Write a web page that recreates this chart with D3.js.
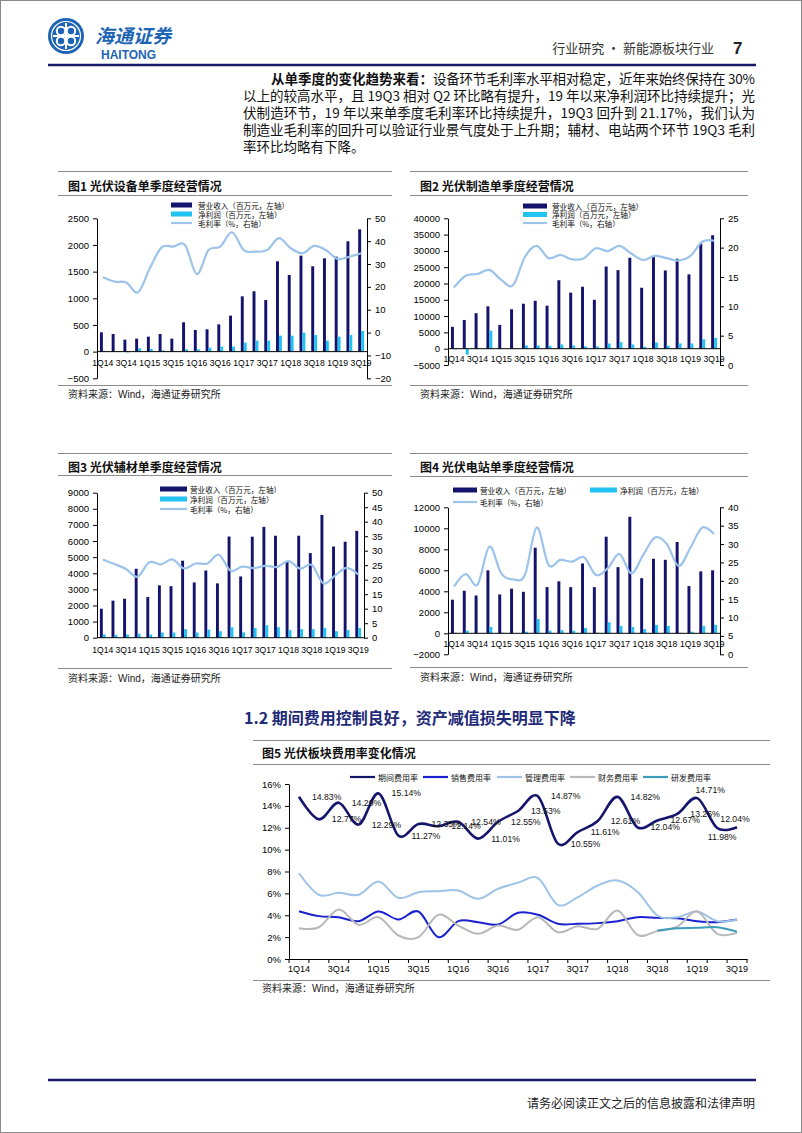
<!DOCTYPE html>
<html><head><meta charset="utf-8">
<script src="https://cdn.jsdelivr.net/npm/d3@7"></script>
<style>body{margin:0;background:#fff} svg{display:block}</style>
</head><body><svg id="page" width="802" height="1133"></svg>
<script>
// ---------------- DATA ----------------
const quarters = ["1Q14","2Q14","3Q14","4Q14","1Q15","2Q15","3Q15","4Q15","1Q16","2Q16","3Q16","4Q16","1Q17","2Q17","3Q17","4Q17","1Q18","2Q18","3Q18","4Q18","1Q19","2Q19","3Q19"];
const xTickLabels = ["1Q14","3Q14","1Q15","3Q15","1Q16","3Q16","1Q17","3Q17","1Q18","3Q18","1Q19","3Q19"];

// 图1 光伏设备
const equipRevenue = [362,331,225,244,281,331,244,550,406,419,512,675,1037,1131,969,1694,1437,1800,1600,1750,1781,2069,2294];
const equipProfit  = [15,5,-15,62,50,25,12,44,44,75,94,94,169,206,206,300,300,356,312,206,281,312,387];
const equipMargin  = [24.2,22.3,21.9,17.6,28.1,37.3,37.6,38.3,25.6,36.1,37.6,43.9,36.1,35.4,36.1,41.3,36.9,34.7,37.9,36.1,32.2,33.2,34.7];
const equipLeftTicks  = [-500,0,500,1000,1500,2000,2500];
const equipRightTicks = [-20,-10,0,10,20,30,40,50];

// 图2 光伏制造
const mfgRevenue = [6700,8800,10900,13000,7300,12100,13800,14700,13200,21000,17200,19000,15000,25200,24100,27900,18700,28300,24000,27600,22800,32300,34800];
const mfgProfit  = [-200,-1800,100,5500,100,200,1000,1000,900,1300,1000,700,700,1600,2000,1300,600,1900,900,1600,1600,2900,3300];
const mfgMargin  = [13.2,15.2,15.5,16.2,14.5,13.6,18.4,20.3,18.2,18.75,18.0,18.2,19.9,19.4,20.3,19.0,17.9,18.6,18.2,17.8,18.6,21.0,21.17];
const mfgLeftTicks  = [-5000,0,5000,10000,15000,20000,25000,30000,35000,40000];
const mfgRightTicks = [0,5,10,15,20,25];

// 图3 光伏辅材
const auxRevenue = [1800,2300,2420,4280,2530,3250,3200,4780,3430,4170,3370,6280,3800,6270,6880,6330,4700,6330,5250,7620,5660,5960,6630];
const auxProfit  = [200,180,200,250,200,320,320,530,320,500,400,650,330,600,770,650,470,530,530,600,400,470,600];
const auxMargin  = [27.0,25.4,23.7,21.0,26.0,25.3,27.0,23.9,25.6,25.6,28.6,23.1,24.5,24.0,24.8,24.4,26.4,23.8,25.1,18.7,21.4,24.1,21.8];
const auxLeftTicks  = [0,1000,2000,3000,4000,5000,6000,7000,8000,9000];
const auxRightTicks = [0,5,10,15,20,25,30,35,40,45,50];

// 图4 光伏电站
const plantRevenue = [3200,4050,3600,6000,3700,4250,3950,8150,4400,4950,4400,6650,4400,9200,6300,11100,5250,7100,7000,8700,4500,5900,6000];
const plantProfit  = [50,250,0,600,50,0,150,1350,250,300,250,500,50,1050,700,600,400,800,700,50,150,700,800];
const plantMargin  = [18.4,21.8,19.0,29.3,22.0,20.4,21.6,34.5,24.3,25.7,25.2,26.4,21.6,23.4,27.3,22.0,27.0,31.8,30.0,24.0,29.0,34.5,32.7];
const plantLeftTicks  = [-2000,0,2000,4000,6000,8000,10000,12000];
const plantRightTicks = [0,5,10,15,20,25,30,35,40];

// 图5 费用率 (%)
const periodRate  = [14.83,12.77,14.29,12.29,15.14,11.27,12.35,12.14,12.54,11.01,12.55,13.53,14.87,10.55,11.61,12.61,14.82,12.04,12.67,13.26,14.71,11.98,12.04];
const salesRate   = [4.37,3.92,3.82,3.46,4.34,3.61,4.34,1.99,3.46,3.37,3.15,4.22,4.04,3.22,3.22,3.28,3.46,3.82,3.76,3.73,3.46,3.37,3.61];
const adminRate   = [7.84,5.87,6.05,5.87,7.08,5.59,6.10,6.20,6.26,5.50,6.42,6.97,7.39,4.95,5.65,6.72,7.18,6.15,3.98,3.82,4.34,3.46,3.61];
const financeRate = [2.82,2.90,4.52,3.12,3.82,2.15,1.99,4.04,3.06,2.30,3.06,2.67,3.82,2.45,3.00,2.76,4.43,2.21,2.55,2.95,4.35,2.30,2.40];
const rdRate      = [null,null,null,null,null,null,null,null,null,null,null,null,null,null,null,null,null,null,2.60,2.82,2.85,2.90,2.50];
const rateTicks   = [0,2,4,6,8,10,12,14,16];
const rateSeriesNames = ["期间费用率","销售费用率","管理费用率","财务费用率","研发费用率"];

// ---------------- STYLE ----------------
const SANS = "'Liberation Sans', Arial, 'Noto Sans CJK SC', sans-serif";
const CJK = "'Noto Sans CJK SC', 'Liberation Sans', sans-serif";
const REV = "#14146e", PROFIT = "#22c2f2", MARGIN = "#9cc3ea";
const NAVY = "#1a1a6b", FRAME = "#8c8c8c";
const rateColors = ["#15156b","#1a22d0","#9dc3e6","#b8b8b8","#3c9db8"];
const rateWidths = [2.6,2,2,2,2];
const labelPlace = quarters.map((q,i)=> i===20 ? "ar" : i===21 ? "b" : i===22 ? "a" : "r");
const fmtInt = d3.format("d");

const svg = d3.select("#page");
svg.append("rect").attr("width",802).attr("height",1133).attr("fill","#fff");
svg.append("rect").attr("x",0.5).attr("y",0.5).attr("width",801).attr("height",1132)
  .attr("fill","none").attr("stroke","#8a8a8a");

// ---------------- HEADER ----------------
const logo = svg.append("g").attr("transform","translate(66,36)");
logo.append("circle").attr("r",18).attr("fill","#1d64b4");
[[-5,-5],[5,-5],[-5,5],[5,5]].forEach(([dx,dy])=>{
  logo.append("circle").attr("cx",dx).attr("cy",dy).attr("r",4.2).attr("fill","none").attr("stroke","#fff").attr("stroke-width",2);
});
logo.append("path").attr("d","M-13,0 H13 M0,-13 V13").attr("stroke","#fff").attr("stroke-width",2);
logo.append("circle").attr("r",14.5).attr("fill","none").attr("stroke","#fff").attr("stroke-width",1.2);
svg.append("text").attr("x",95).attr("y",43).attr("font-family",CJK).attr("font-weight",700)
  .attr("font-size",19).attr("fill","#1d64b4").attr("font-style","italic").text("海通证券");
svg.append("text").attr("x",101).attr("y",59).attr("font-family",SANS).attr("font-weight",700)
  .attr("font-size",12).attr("fill","#1d64b4").text("HAITONG");
svg.append("text").attr("x",714).attr("y",53).attr("text-anchor","end").attr("font-family",CJK)
  .attr("font-size",13).attr("fill","#333").text("行业研究 · 新能源板块行业");
svg.append("text").attr("x",733).attr("y",54).attr("font-family",SANS).attr("font-weight",700)
  .attr("font-size",17).attr("fill","#222").text("7");
svg.append("line").attr("x1",48).attr("x2",756).attr("y1",65).attr("y2",65).attr("stroke",NAVY).attr("stroke-width",2.5);

// paragraph
const paraX0 = 243, paraX1 = 755, paraFS = 13.5;
const paraLines = [
  "以上的较高水平，且 19Q3 相对 Q2 环比略有提升，19 年以来净利润环比持续提升；光",
  "伏制造环节，19 年以来单季度毛利率环比持续提升，19Q3 回升到 21.17%，我们认为",
  "制造业毛利率的回升可以验证行业景气度处于上升期；辅材、电站两个环节 19Q3 毛利",
  "率环比均略有下降。"
];
const boldPart = svg.append("text").attr("x",271).attr("y",84).attr("font-family",CJK).attr("font-weight",700)
  .attr("font-size",paraFS).attr("fill","#111").text("从单季度的变化趋势来看：");
const bw0 = boldPart.node().getComputedTextLength();
svg.append("text").attr("x",271+bw0).attr("y",84).attr("font-family",CJK).attr("font-size",paraFS).attr("fill","#111")
  .attr("textLength",paraX1-271-bw0).attr("lengthAdjust","spacing")
  .text("设备环节毛利率水平相对稳定，近年来始终保持在 30%");
paraLines.forEach((t,i)=>{
  const el = svg.append("text").attr("x",paraX0).attr("y",84+17*(i+1)).attr("font-family",CJK)
    .attr("font-size",paraFS).attr("fill","#111").text(t);
  if(i<3) el.attr("textLength",paraX1-paraX0).attr("lengthAdjust","spacing");
});

// ---------------- COMBO CHARTS ----------------
function combo(o){
  const g = svg.append("g");
  const hl = (y)=>g.append("line").attr("x1",o.fx0).attr("x2",o.fx1).attr("y1",y).attr("y2",y).attr("stroke",FRAME).attr("stroke-width",1);
  hl(o.topY); hl(o.titleLineY); hl(o.srcLineY);
  g.append("text").attr("x",o.fx0+10).attr("y",o.titleY).attr("dominant-baseline","central")
    .attr("font-family",CJK).attr("font-size",12).attr("font-weight",700).attr("fill","#111").text(o.title);
  g.append("text").attr("x",o.fx0+10).attr("y",o.srcY).attr("dominant-baseline","central")
    .attr("font-family",SANS).attr("font-size",10).attr("fill","#222").text("资料来源：Wind，海通证券研究所");

  const x = d3.scaleBand().domain(quarters).range([o.l,o.r]);
  const cx = i => x(quarters[i]) + x.bandwidth()/2;
  const yL = d3.scaleLinear().domain(o.leftDomain).range([o.b,o.t]);
  const yR = d3.scaleLinear().domain(o.rightDomain).range([o.b,o.t]);
  const bw = x.bandwidth()*0.25;

  g.append("g").selectAll("rect").data(o.revenue).join("rect")
    .attr("x",(d,i)=>cx(i)-bw).attr("width",bw)
    .attr("y",d=>yL(Math.max(0,d))).attr("height",d=>Math.abs(yL(d)-yL(0))).attr("fill",REV);
  g.append("g").selectAll("rect").data(o.profit).join("rect")
    .attr("x",(d,i)=>cx(i)).attr("width",bw)
    .attr("y",d=>yL(Math.max(0,d))).attr("height",d=>Math.abs(yL(d)-yL(0))).attr("fill",PROFIT);

  // axes
  const la = g.append("g").attr("transform",`translate(${o.l},0)`)
    .call(d3.axisLeft(yL).tickValues(o.leftTicks).tickFormat(fmtInt).tickSize(4).tickPadding(4).tickSizeOuter(0));
  const ra = g.append("g").attr("transform",`translate(${o.r},0)`)
    .call(d3.axisRight(yR).tickValues(o.rightTicks).tickFormat(fmtInt).tickSize(4).tickPadding(4).tickSizeOuter(0));
  [la,ra].forEach(a=>{
    a.attr("font-family",SANS).attr("font-size",9.5);
    a.selectAll("text").attr("fill","#000");
    a.selectAll("line,path").attr("stroke","#000");
  });
  g.append("line").attr("x1",o.l).attr("x2",o.r).attr("y1",yL(0)).attr("y2",yL(0)).attr("stroke","#000");
  g.append("g").selectAll("text").data(xTickLabels).join("text")
    .attr("x",d=>x(d)+x.bandwidth()/2).attr("y",yL(0)+o.xLabOff).attr("text-anchor","middle")
    .attr("dominant-baseline","central").attr("font-family",SANS).attr("font-size",8.6).attr("fill","#000").text(d=>d);

  const line = d3.line().x((d,i)=>cx(i)).y(d=>yR(d)).curve(d3.curveCardinal.tension(0));
  g.append("path").datum(o.margin).attr("d",line).attr("fill","none").attr("stroke",MARGIN).attr("stroke-width",2.2);

  // legend
  o.legend.forEach(it=>{
    if(it.type==="rect") g.append("rect").attr("x",it.x).attr("y",it.y-2.5).attr("width",it.w).attr("height",5).attr("fill",it.color);
    else g.append("line").attr("x1",it.x).attr("x2",it.x+it.w).attr("y1",it.y).attr("y2",it.y).attr("stroke",it.color).attr("stroke-width",2.2);
    g.append("text").attr("x",it.tx).attr("y",it.y).attr("dominant-baseline","central")
      .attr("font-family",CJK).attr("font-size",7.6).attr("fill","#111").text(it.label);
  });
}

const L1 = "营业收入（百万元，左轴）", L2 = "净利润（百万元，左轴）", L3 = "毛利率（%，右轴）";
combo({fx0:58,fx1:392,topY:171.5,titleY:185,titleLineY:195.5,srcLineY:385.5,srcY:394,
  title:"图1  光伏设备单季度经营情况",l:97,r:367,t:218.3,b:378.3,leftDomain:[-500,2500],rightDomain:[-20,50],
  leftTicks:equipLeftTicks,rightTicks:equipRightTicks,revenue:equipRevenue,profit:equipProfit,margin:equipMargin,xLabOff:11,
  legend:[{type:"rect",color:REV,x:171,y:205,w:21,tx:198,label:L1},{type:"rect",color:PROFIT,x:171,y:214,w:21,tx:198,label:L2},{type:"line",color:MARGIN,x:171,y:223,w:21,tx:198,label:L3}]});
combo({fx0:410,fx1:748,topY:171.5,titleY:185,titleLineY:195.5,srcLineY:385.5,srcY:394,
  title:"图2  光伏制造单季度经营情况",l:448,r:720,t:218.3,b:365,leftDomain:[-5000,40000],rightDomain:[0,25],
  leftTicks:mfgLeftTicks,rightTicks:mfgRightTicks,revenue:mfgRevenue,profit:mfgProfit,margin:mfgMargin,xLabOff:10,
  legend:[{type:"rect",color:REV,x:523,y:206,w:24,tx:552,label:L1},{type:"rect",color:PROFIT,x:523,y:214.5,w:24,tx:552,label:L2},{type:"line",color:MARGIN,x:523,y:223,w:24,tx:552,label:L3}]});
combo({fx0:58,fx1:392,topY:453.5,titleY:466,titleLineY:475.5,srcLineY:668.5,srcY:678,
  title:"图3  光伏辅材单季度经营情况",l:97,r:364,t:492.7,b:637.7,leftDomain:[0,9000],rightDomain:[0,50],
  leftTicks:auxLeftTicks,rightTicks:auxRightTicks,revenue:auxRevenue,profit:auxProfit,margin:auxMargin,xLabOff:12,
  legend:[{type:"rect",color:REV,x:160,y:489,w:27,tx:190,label:L1},{type:"rect",color:PROFIT,x:160,y:499,w:27,tx:190,label:L2},{type:"line",color:MARGIN,x:160,y:509,w:27,tx:190,label:L3}]});
combo({fx0:410,fx1:748,topY:453.5,titleY:466,titleLineY:476.5,srcLineY:667.5,srcY:677,
  title:"图4  光伏电站单季度经营情况",l:448,r:720,t:507.3,b:654.3,leftDomain:[-2000,12000],rightDomain:[0,40],
  leftTicks:plantLeftTicks,rightTicks:plantRightTicks,revenue:plantRevenue,profit:plantProfit,margin:plantMargin,xLabOff:11,
  legend:[{type:"rect",color:REV,x:453,y:490,w:24,tx:480,label:L1},{type:"rect",color:PROFIT,x:590,y:490,w:27,tx:620,label:L2},{type:"line",color:MARGIN,x:453,y:502,w:24,tx:480,label:L3}]});

// ---------------- SECTION HEADING ----------------
svg.append("text").attr("x",244).attr("y",717).attr("dominant-baseline","central")
  .attr("font-family",CJK).attr("font-weight",700).attr("font-size",16).attr("fill","#1f2a78")
  .text("1.2 期间费用控制良好，资产减值损失明显下降");

// ---------------- CHART 5 ----------------
(function(){
  const g = svg.append("g");
  const fx0 = 253, fx1 = 770;
  const hl = (y)=>g.append("line").attr("x1",fx0).attr("x2",fx1).attr("y1",y).attr("y2",y).attr("stroke",FRAME).attr("stroke-width",1);
  hl(740.5); hl(764.5); hl(980.5);
  g.append("text").attr("x",262).attr("y",752).attr("dominant-baseline","central")
    .attr("font-family",CJK).attr("font-size",12).attr("font-weight",700).attr("fill","#111").text("图5  光伏板块费用率变化情况");
  g.append("text").attr("x",262).attr("y",988).attr("dominant-baseline","central")
    .attr("font-family",SANS).attr("font-size",10).attr("fill","#222").text("资料来源：Wind，海通证券研究所");

  const l = 289, r = 747, t = 784, b = 959;
  const x = d3.scaleBand().domain(quarters).range([l,r]);
  const cx = i => x(quarters[i]) + x.bandwidth()/2;
  const y = d3.scaleLinear().domain([0,16]).range([b,t]);

  const ya = g.append("g").attr("transform",`translate(${l},0)`)
    .call(d3.axisLeft(y).tickValues(rateTicks).tickFormat(d=>d+"%").tickSize(4).tickPadding(4).tickSizeOuter(0));
  ya.attr("font-family",SANS).attr("font-size",9.5);
  ya.selectAll("text").attr("fill","#000");
  ya.selectAll("line,path").attr("stroke","#000");
  const xa = g.append("g").attr("transform",`translate(0,${b})`)
    .call(d3.axisBottom(x).tickValues([]).tickSizeOuter(0));
  xa.selectAll("path").attr("stroke","#000");
  g.append("g").selectAll("line").data(quarters.slice(1)).join("line")
    .attr("x1",d=>x(d)).attr("x2",d=>x(d)).attr("y1",b).attr("y2",b+4).attr("stroke","#000");
  g.append("g").selectAll("line.e").data([l,r]).join("line")
    .attr("x1",d=>d).attr("x2",d=>d).attr("y1",b).attr("y2",b+4).attr("stroke","#000");
  g.append("g").selectAll("text").data(xTickLabels).join("text")
    .attr("x",d=>x(d)+x.bandwidth()/2).attr("y",b+10).attr("text-anchor","middle")
    .attr("dominant-baseline","central").attr("font-family",SANS).attr("font-size",9).attr("fill","#000").text(d=>d);

  const series = [periodRate,salesRate,adminRate,financeRate,rdRate];
  series.forEach((s,k)=>{
    const pts = s.map((v,i)=>({v,i})).filter(p=>p.v!=null);
    const ln = d3.line().x(p=>cx(p.i)).y(p=>y(p.v)).curve(d3.curveCardinal.tension(0));
    g.append("path").datum(pts).attr("d",ln).attr("fill","none")
      .attr("stroke",rateColors[k]).attr("stroke-width",rateWidths[k]);
  });

  // data labels for 期间费用率
  g.append("g").selectAll("text").data(periodRate).join("text")
    .attr("x",(d,i)=>{const p=labelPlace[i]; return p==="r"?cx(i)+13: p==="ar"?cx(i)+13: p==="b"?cx(i)+5: cx(i)-2;})
    .attr("y",(d,i)=>{const p=labelPlace[i]; return p==="r"?y(d): p==="b"?y(d)+9: y(d)-8;})
    .attr("text-anchor",(d,i)=>labelPlace[i]==="r"?"start":"middle")
    .attr("dominant-baseline","central").attr("font-family",SANS).attr("font-size",8.7).attr("fill","#111")
    .text(d=>d.toFixed(2)+"%");

  // legend
  const legX = [350,423,497,570,643];
  rateSeriesNames.forEach((n,k)=>{
    g.append("line").attr("x1",legX[k]).attr("x2",legX[k]+25).attr("y1",777).attr("y2",777)
      .attr("stroke",rateColors[k]).attr("stroke-width",2.2);
    g.append("text").attr("x",legX[k]+28).attr("y",777).attr("dominant-baseline","central")
      .attr("font-family",CJK).attr("font-size",8).attr("fill","#111").text(n);
  });
})();

// ---------------- FOOTER ----------------
svg.append("line").attr("x1",48).attr("x2",756).attr("y1",1080).attr("y2",1080).attr("stroke",NAVY).attr("stroke-width",2.5);
svg.append("text").attr("x",755).attr("y",1102).attr("text-anchor","end").attr("dominant-baseline","central")
  .attr("font-family",CJK).attr("font-size",12).attr("fill","#222").text("请务必阅读正文之后的信息披露和法律声明");
</script></body></html>
